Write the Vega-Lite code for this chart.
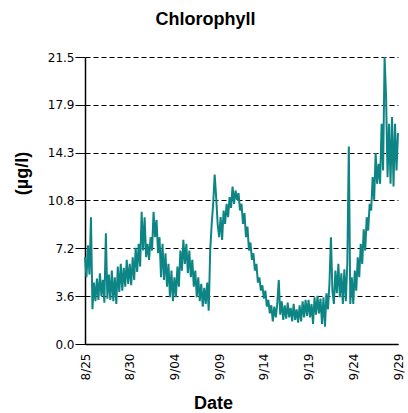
{
  "$schema": "https://vega.github.io/schema/vega-lite/v6.json",
  "width": 313,
  "height": 287,
  "autosize": "none",
  "padding": {"left": 85, "top": 57, "right": 10, "bottom": 69},
  "background": "white",
  "title": {
    "text": "Chlorophyll",
    "font": "Liberation Sans",
    "fontSize": 18,
    "fontWeight": "bold",
    "color": "black",
    "anchor": "middle",
    "dx": -36,
    "offset": 22
  },
  "data": {"values": [
    {"t":"2008-08-25T00:00","v":6.5},{"t":"2008-08-25T04:00","v":5.0},{"t":"2008-08-25T08:00","v":7.4},{"t":"2008-08-25T12:00","v":5.2},{"t":"2008-08-25T16:00","v":9.5},{"t":"2008-08-25T20:00","v":2.6},
    {"t":"2008-08-26T00:00","v":4.6},{"t":"2008-08-26T04:00","v":3.2},{"t":"2008-08-26T08:00","v":4.9},{"t":"2008-08-26T12:00","v":3.3},{"t":"2008-08-26T16:00","v":5.3},{"t":"2008-08-26T20:00","v":3.6},
    {"t":"2008-08-27T00:00","v":4.8},{"t":"2008-08-27T04:00","v":3.1},{"t":"2008-08-27T08:00","v":8.3},{"t":"2008-08-27T12:00","v":3.4},{"t":"2008-08-27T16:00","v":5.2},{"t":"2008-08-27T20:00","v":3.3},
    {"t":"2008-08-28T00:00","v":5.5},{"t":"2008-08-28T04:00","v":3.2},{"t":"2008-08-28T08:00","v":5.0},{"t":"2008-08-28T12:00","v":3.0},{"t":"2008-08-28T16:00","v":5.8},{"t":"2008-08-28T20:00","v":3.9},
    {"t":"2008-08-29T00:00","v":6.0},{"t":"2008-08-29T04:00","v":4.0},{"t":"2008-08-29T08:00","v":5.7},{"t":"2008-08-29T12:00","v":4.3},{"t":"2008-08-29T16:00","v":6.3},{"t":"2008-08-29T20:00","v":4.5},
    {"t":"2008-08-30T00:00","v":6.0},{"t":"2008-08-30T04:00","v":4.4},{"t":"2008-08-30T08:00","v":6.5},{"t":"2008-08-30T12:00","v":4.8},{"t":"2008-08-30T16:00","v":7.2},{"t":"2008-08-30T20:00","v":5.4},
    {"t":"2008-08-31T00:00","v":7.5},{"t":"2008-08-31T04:00","v":5.8},{"t":"2008-08-31T08:00","v":9.9},{"t":"2008-08-31T12:00","v":7.0},{"t":"2008-08-31T16:00","v":9.5},{"t":"2008-08-31T20:00","v":6.5},
    {"t":"2008-09-01T00:00","v":7.5},{"t":"2008-09-01T04:00","v":6.3},{"t":"2008-09-01T08:00","v":8.0},{"t":"2008-09-01T12:00","v":7.0},{"t":"2008-09-01T16:00","v":9.9},{"t":"2008-09-01T20:00","v":8.0},
    {"t":"2008-09-02T00:00","v":9.3},{"t":"2008-09-02T04:00","v":6.8},{"t":"2008-09-02T08:00","v":8.0},{"t":"2008-09-02T12:00","v":5.0},{"t":"2008-09-02T16:00","v":7.5},{"t":"2008-09-02T20:00","v":4.8},
    {"t":"2008-09-03T00:00","v":6.8},{"t":"2008-09-03T04:00","v":4.3},{"t":"2008-09-03T08:00","v":6.0},{"t":"2008-09-03T12:00","v":3.5},{"t":"2008-09-03T16:00","v":5.5},{"t":"2008-09-03T20:00","v":3.2},
    {"t":"2008-09-04T00:00","v":5.0},{"t":"2008-09-04T04:00","v":3.5},{"t":"2008-09-04T08:00","v":5.8},{"t":"2008-09-04T12:00","v":4.3},{"t":"2008-09-04T16:00","v":7.0},{"t":"2008-09-04T20:00","v":5.5},
    {"t":"2008-09-05T00:00","v":7.8},{"t":"2008-09-05T04:00","v":6.0},{"t":"2008-09-05T08:00","v":7.5},{"t":"2008-09-05T12:00","v":5.3},{"t":"2008-09-05T16:00","v":7.0},{"t":"2008-09-05T20:00","v":5.0},
    {"t":"2008-09-06T00:00","v":6.3},{"t":"2008-09-06T04:00","v":4.3},{"t":"2008-09-06T08:00","v":5.5},{"t":"2008-09-06T12:00","v":3.5},{"t":"2008-09-06T16:00","v":5.0},{"t":"2008-09-06T20:00","v":3.2},
    {"t":"2008-09-07T00:00","v":4.5},{"t":"2008-09-07T04:00","v":2.8},{"t":"2008-09-07T08:00","v":4.2},{"t":"2008-09-07T12:00","v":3.0},{"t":"2008-09-07T16:00","v":4.6},{"t":"2008-09-07T20:00","v":2.5},
    {"t":"2008-09-08T00:00","v":7.0},{"t":"2008-09-08T04:00","v":9.0},{"t":"2008-09-08T08:00","v":10.5},{"t":"2008-09-08T12:00","v":12.7},{"t":"2008-09-08T16:00","v":11.0},{"t":"2008-09-08T20:00","v":9.0},
    {"t":"2008-09-09T00:00","v":8.0},{"t":"2008-09-09T04:00","v":9.5},{"t":"2008-09-09T08:00","v":7.8},{"t":"2008-09-09T12:00","v":10.0},{"t":"2008-09-09T16:00","v":9.0},{"t":"2008-09-09T20:00","v":10.5},
    {"t":"2008-09-10T00:00","v":9.5},{"t":"2008-09-10T04:00","v":11.0},{"t":"2008-09-10T08:00","v":10.2},{"t":"2008-09-10T12:00","v":11.8},{"t":"2008-09-10T16:00","v":10.5},{"t":"2008-09-10T20:00","v":11.5},
    {"t":"2008-09-11T00:00","v":10.8},{"t":"2008-09-11T04:00","v":11.3},{"t":"2008-09-11T08:00","v":10.0},{"t":"2008-09-11T12:00","v":10.5},{"t":"2008-09-11T16:00","v":9.0},{"t":"2008-09-11T20:00","v":9.8},
    {"t":"2008-09-12T00:00","v":8.0},{"t":"2008-09-12T04:00","v":8.8},{"t":"2008-09-12T08:00","v":7.0},{"t":"2008-09-12T12:00","v":7.6},{"t":"2008-09-12T16:00","v":6.3},{"t":"2008-09-12T20:00","v":6.8},
    {"t":"2008-09-13T00:00","v":5.5},{"t":"2008-09-13T04:00","v":6.0},{"t":"2008-09-13T08:00","v":4.6},{"t":"2008-09-13T12:00","v":5.0},{"t":"2008-09-13T16:00","v":4.0},{"t":"2008-09-13T20:00","v":4.4},
    {"t":"2008-09-14T00:00","v":3.4},{"t":"2008-09-14T04:00","v":4.0},{"t":"2008-09-14T08:00","v":2.8},{"t":"2008-09-14T12:00","v":3.3},{"t":"2008-09-14T16:00","v":2.3},{"t":"2008-09-14T20:00","v":2.9},
    {"t":"2008-09-15T00:00","v":1.7},{"t":"2008-09-15T04:00","v":2.8},{"t":"2008-09-15T08:00","v":2.0},{"t":"2008-09-15T12:00","v":3.0},{"t":"2008-09-15T16:00","v":4.8},{"t":"2008-09-15T20:00","v":2.2},
    {"t":"2008-09-16T00:00","v":3.2},{"t":"2008-09-16T04:00","v":1.8},{"t":"2008-09-16T08:00","v":2.9},{"t":"2008-09-16T12:00","v":1.9},{"t":"2008-09-16T16:00","v":3.1},{"t":"2008-09-16T20:00","v":2.0},
    {"t":"2008-09-17T00:00","v":2.7},{"t":"2008-09-17T04:00","v":1.7},{"t":"2008-09-17T08:00","v":3.0},{"t":"2008-09-17T12:00","v":1.8},{"t":"2008-09-17T16:00","v":2.6},{"t":"2008-09-17T20:00","v":1.6},
    {"t":"2008-09-18T00:00","v":2.9},{"t":"2008-09-18T04:00","v":1.7},{"t":"2008-09-18T08:00","v":3.2},{"t":"2008-09-18T12:00","v":2.0},{"t":"2008-09-18T16:00","v":3.3},{"t":"2008-09-18T20:00","v":2.1},
    {"t":"2008-09-19T00:00","v":3.3},{"t":"2008-09-19T04:00","v":2.0},{"t":"2008-09-19T08:00","v":3.0},{"t":"2008-09-19T12:00","v":1.5},{"t":"2008-09-19T16:00","v":3.5},{"t":"2008-09-19T20:00","v":2.2},
    {"t":"2008-09-20T00:00","v":3.6},{"t":"2008-09-20T04:00","v":2.3},{"t":"2008-09-20T08:00","v":3.4},{"t":"2008-09-20T12:00","v":1.5},{"t":"2008-09-20T16:00","v":3.5},{"t":"2008-09-20T20:00","v":1.3},
    {"t":"2008-09-21T00:00","v":3.8},{"t":"2008-09-21T04:00","v":2.6},{"t":"2008-09-21T08:00","v":4.5},{"t":"2008-09-21T12:00","v":8.0},{"t":"2008-09-21T16:00","v":4.0},{"t":"2008-09-21T20:00","v":3.0},
    {"t":"2008-09-22T00:00","v":5.5},{"t":"2008-09-22T04:00","v":3.8},{"t":"2008-09-22T08:00","v":6.0},{"t":"2008-09-22T12:00","v":3.5},{"t":"2008-09-22T16:00","v":5.3},{"t":"2008-09-22T20:00","v":3.0},
    {"t":"2008-09-23T00:00","v":5.6},{"t":"2008-09-23T04:00","v":3.2},{"t":"2008-09-23T08:00","v":6.0},{"t":"2008-09-23T12:00","v":14.8},{"t":"2008-09-23T16:00","v":3.0},{"t":"2008-09-23T20:00","v":5.0},
    {"t":"2008-09-24T00:00","v":3.0},{"t":"2008-09-24T04:00","v":5.5},{"t":"2008-09-24T08:00","v":4.0},{"t":"2008-09-24T12:00","v":6.5},{"t":"2008-09-24T16:00","v":5.0},{"t":"2008-09-24T20:00","v":7.5},
    {"t":"2008-09-25T00:00","v":6.0},{"t":"2008-09-25T04:00","v":8.6},{"t":"2008-09-25T08:00","v":7.0},{"t":"2008-09-25T12:00","v":9.5},{"t":"2008-09-25T16:00","v":8.5},{"t":"2008-09-25T20:00","v":10.5},
    {"t":"2008-09-26T00:00","v":10.0},{"t":"2008-09-26T04:00","v":12.5},{"t":"2008-09-26T08:00","v":10.8},{"t":"2008-09-26T12:00","v":14.3},{"t":"2008-09-26T16:00","v":12.0},{"t":"2008-09-26T20:00","v":13.5},
    {"t":"2008-09-27T00:00","v":12.0},{"t":"2008-09-27T04:00","v":16.5},{"t":"2008-09-27T08:00","v":13.0},{"t":"2008-09-27T12:00","v":21.5},{"t":"2008-09-27T16:00","v":18.5},{"t":"2008-09-27T20:00","v":12.5},
    {"t":"2008-09-28T00:00","v":16.5},{"t":"2008-09-28T04:00","v":12.0},{"t":"2008-09-28T08:00","v":17.0},{"t":"2008-09-28T12:00","v":11.8},{"t":"2008-09-28T16:00","v":16.5},{"t":"2008-09-28T20:00","v":13.0},
    {"t":"2008-09-29T00:00","v":15.8}
  ]},
  "mark": {"type": "line", "color": "#0e8585", "strokeWidth": 2, "interpolate": "linear"},
  "encoding": {
    "x": {
      "field": "t",
      "type": "temporal",
      "scale": {"domain": [{"year": 2008, "month": 8, "date": 25}, {"year": 2008, "month": 9, "date": 29}], "nice": false},
      "axis": {
        "title": "Date",
        "titleFont": "Liberation Sans",
        "titleFontSize": 18,
        "titleFontWeight": "bold",
        "titleColor": "black",
        "titleX": 128,
        "titleY": 64,
        "titleAlign": "center",
        "titleBaseline": "alphabetic",
        "values": [
          {"year": 2008, "month": 8, "date": 25},
          {"year": 2008, "month": 8, "date": 30},
          {"year": 2008, "month": 9, "date": 4},
          {"year": 2008, "month": 9, "date": 9},
          {"year": 2008, "month": 9, "date": 14},
          {"year": 2008, "month": 9, "date": 19},
          {"year": 2008, "month": 9, "date": 24},
          {"year": 2008, "month": 9, "date": 29}
        ],
        "format": "%-m/%d",
        "labelAngle": 270,
        "labelAlign": "right",
        "labelBaseline": "middle",
        "labelFont": "DejaVu Sans",
        "labelFontSize": 12,
        "labelColor": "black",
        "labelPadding": 9,
        "labelFlush": false,
        "labelOverlap": false,
        "ticks": false,
        "grid": false,
        "domainColor": "black",
        "domainWidth": 1.5
      }
    },
    "y": {
      "field": "v",
      "type": "quantitative",
      "scale": {"domain": [0, 21.5], "nice": false, "zero": true},
      "axis": {
        "title": "(µg/l)",
        "titleFont": "Liberation Sans",
        "titleFontSize": 18,
        "titleFontWeight": "bold",
        "titleColor": "black",
        "titleAngle": 270,
        "titleX": -63,
        "titleY": 116,
        "titleAlign": "center",
        "titleBaseline": "middle",
        "values": [0, 3.5833, 7.1667, 10.7501, 14.3333, 17.9167, 21.5],
        "format": ".1f",
        "labelFont": "DejaVu Sans",
        "labelFontSize": 12,
        "labelColor": "black",
        "labelPadding": 1,
        "labelFlush": false,
        "tickSize": 10,
        "tickColor": "black",
        "domainColor": "black",
        "domainWidth": 1.5,
        "grid": true,
        "gridColor": "black",
        "gridDash": [5, 3],
        "gridOpacity": 1,
        "gridWidth": 1
      }
    }
  },
  "config": {"view": {"stroke": null}}
}
